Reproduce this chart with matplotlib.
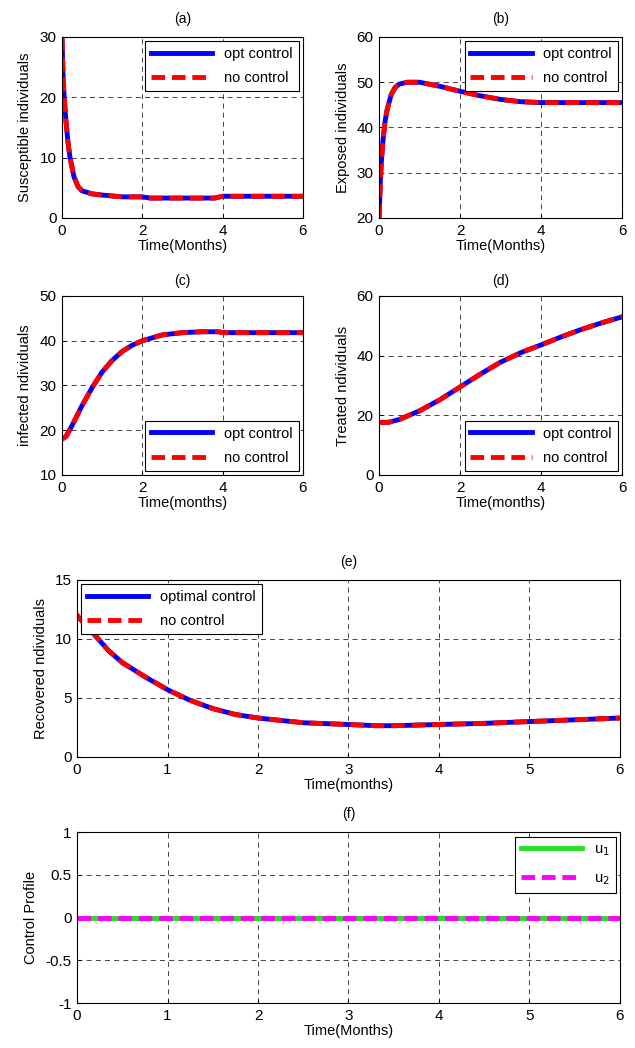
import matplotlib.pyplot as plt
import numpy as np

plt.rcParams['font.family'] = ['Liberation Sans', 'DejaVu Sans']
plt.rcParams['font.size'] = 9

# (a) susceptible
t_s = [0, 0.03, 0.06, 0.1, 0.15, 0.2, 0.3, 0.4, 0.5, 0.75, 1.0, 1.5, 2.0, 2.2, 3.0, 3.8, 4.0, 5.0, 6.0]
s_vals = [30, 23, 19.5, 16, 12.5, 10, 6.8, 5.2, 4.5, 4.0, 3.8, 3.5, 3.5, 3.3, 3.3, 3.3, 3.6, 3.6, 3.6]

# (b) exposed
t_e = [0, 0.03, 0.06, 0.1, 0.15, 0.2, 0.3, 0.4, 0.5, 0.7, 1.0, 1.5, 2.0, 2.5, 3.0, 3.5, 4.0, 5.0, 6.0]
e_vals = [20, 28, 33, 37.5, 41.5, 44, 47.3, 48.9, 49.6, 50, 50, 49.1, 48, 47, 46.2, 45.7, 45.5, 45.5, 45.5]

# (c) infected
t_i = [0, 0.1, 0.25, 0.5, 0.75, 1.0, 1.25, 1.5, 1.75, 2.0, 2.5, 3.0, 3.5, 3.9, 4.0, 5.0, 6.0]
i_vals = [18, 18.6, 21, 25.5, 29.5, 33, 35.6, 37.6, 39, 40, 41.3, 41.8, 42, 42, 41.8, 41.8, 41.8]

# (d) treated
t_t = [0, 0.25, 0.5, 1.0, 1.5, 2.0, 2.5, 3.0, 3.5, 4.0, 4.5, 5.0, 5.5, 6.0]
t_vals = [17.5, 17.7, 18.6, 21.5, 25.2, 29.5, 33.8, 37.8, 41, 43.6, 46.3, 48.8, 51, 53]

# (e) recovered
t_r = [0, 0.2, 0.35, 0.5, 0.75, 1.0, 1.25, 1.5, 1.75, 2.0, 2.5, 3.0, 3.3, 3.5, 4.0, 4.5, 5.0, 5.5, 6.0]
r_vals = [12, 10.3, 9.0, 8.0, 6.8, 5.7, 4.8, 4.1, 3.6, 3.3, 2.9, 2.75, 2.65, 2.65, 2.75, 2.85, 3.0, 3.15, 3.3]

# (f) controls
t_u = [0, 6]
u1 = [0, 0]
u2 = [0, 0]

fig = plt.figure(figsize=(6.35, 10.48), dpi=100)


def style(ax, xlim, ylim, yticks, xticks):
    ax.set_xlim(xlim)
    ax.set_ylim(ylim)
    ax.set_xticks(xticks)
    ax.set_yticks(yticks)
    ax.grid(True, color='black', linestyle=(0, (6, 5)), linewidth=0.6, alpha=0.85)
    ax.tick_params(direction='in', length=3, labelsize=11, pad=4)
    for sp in ax.spines.values():
        sp.set_linewidth(0.8)


def pair(ax, t, y, lab1, lab2, loc):
    ax.plot(t, y, color='blue', lw=3.5, label=lab1)
    ax.plot(t, y, color='red', lw=3.5, dashes=(2.8, 1.4), label=lab2)
    leg = ax.legend(loc=loc, fancybox=False, edgecolor='black', framealpha=1,
                    handlelength=4.2, fontsize=10.5, borderaxespad=0.3,
                    labelspacing=0.7)
    leg.get_frame().set_linewidth(0.8)


ax_a = fig.add_axes([0.0976, 0.792, 0.3795, 0.1727])
pair(ax_a, t_s, s_vals, 'opt control', 'no control', 'upper right')
style(ax_a, (0, 6), (0, 30), [0, 10, 20, 30], [0, 2, 4, 6])
ax_a.set_title('(a)', fontsize=10, pad=10)
ax_a.set_ylabel('Susceptible individuals', fontsize=10.5, labelpad=5)
ax_a.set_xlabel('Time(Months)', fontsize=10.5, labelpad=1)

ax_b = fig.add_axes([0.597, 0.792, 0.3827, 0.1727])
pair(ax_b, t_e, e_vals, 'opt control', 'no control', 'upper right')
style(ax_b, (0, 6), (20, 60), [20, 30, 40, 50, 60], [0, 2, 4, 6])
ax_b.set_title('(b)', fontsize=10, pad=10)
ax_b.set_ylabel('Exposed individuals', fontsize=10.5, labelpad=5)
ax_b.set_xlabel('Time(Months)', fontsize=10.5, labelpad=1)

ax_c = fig.add_axes([0.0976, 0.5468, 0.3795, 0.1708])
pair(ax_c, t_i, i_vals, 'opt control', 'no control', 'lower right')
style(ax_c, (0, 6), (10, 50), [10, 20, 30, 40, 50], [0, 2, 4, 6])
ax_c.set_title('(c)', fontsize=10, pad=8)
ax_c.set_ylabel('infected ndividuals', fontsize=10.5, labelpad=5)
ax_c.set_xlabel('Time(months)', fontsize=10.5, labelpad=1)

ax_d = fig.add_axes([0.597, 0.5468, 0.3827, 0.1708])
pair(ax_d, t_t, t_vals, 'opt control', 'no control', 'lower right')
style(ax_d, (0, 6), (0, 60), [0, 20, 40, 60], [0, 2, 4, 6])
ax_d.set_title('(d)', fontsize=10, pad=8)
ax_d.set_ylabel('Treated ndividuals', fontsize=10.5, labelpad=5)
ax_d.set_xlabel('Time(months)', fontsize=10.5, labelpad=1)

ax_e = fig.add_axes([0.1213, 0.2777, 0.855, 0.1689])
pair(ax_e, t_r, r_vals, 'optimal control', 'no control', 'upper left')
style(ax_e, (0, 6), (0, 15), [0, 5, 10, 15], [0, 1, 2, 3, 4, 5, 6])
ax_e.set_title('(e)', fontsize=10, pad=10)
ax_e.set_ylabel('Recovered ndividuals', fontsize=10.5, labelpad=5)
ax_e.set_xlabel('Time(months)', fontsize=10.5, labelpad=1)

ax_f = fig.add_axes([0.1213, 0.0429, 0.855, 0.163])
ax_f.plot(t_u, u1, color='#22e022', lw=3.5, label='u$_1$')
ax_f.plot(t_u, u2, color='magenta', lw=3.5, dashes=(2.8, 1.4), label='u$_2$')
leg = ax_f.legend(loc='upper right', fancybox=False, edgecolor='black', framealpha=1,
                  handlelength=4.2, fontsize=10.5, borderaxespad=0.3, labelspacing=0.9)
leg.get_frame().set_linewidth(0.8)
style(ax_f, (0, 6), (-1, 1), [-1, -0.5, 0, 0.5, 1], [0, 1, 2, 3, 4, 5, 6])
ax_f.set_yticklabels(['-1', '-0.5', '0', '0.5', '1'])
ax_f.set_title('(f)', fontsize=10, pad=10)
ax_f.set_ylabel('Control Profile', fontsize=10.5, labelpad=5)
ax_f.set_xlabel('Time(Months)', fontsize=10.5, labelpad=1)

fig.savefig('out.png', dpi=100)
